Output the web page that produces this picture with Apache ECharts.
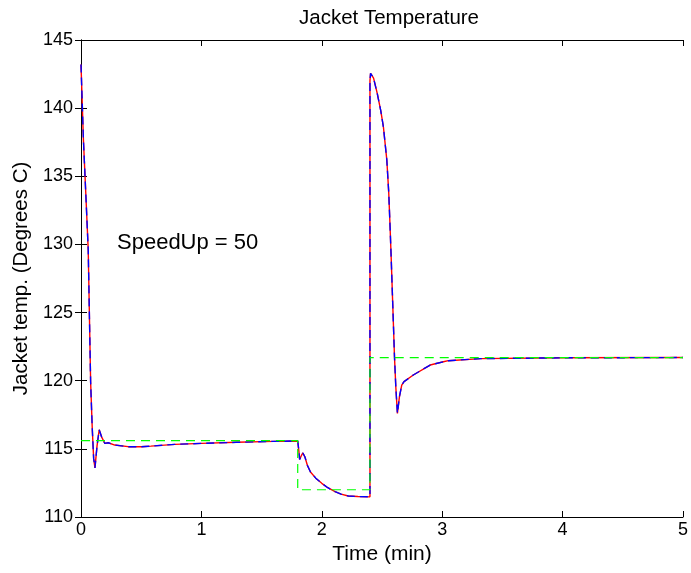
<!DOCTYPE html>
<html>
<head>
    <meta charset="utf-8" />
    <title>Jacket Temperature</title>
    <script src="https://cdn.jsdelivr.net/npm/echarts@6/dist/echarts.min.js"></script>
    <style>
        html, body { margin: 0; padding: 0; background: #fff; }
        #chart { width: 691px; height: 573px; }
    </style>
</head>
<body>
    <div id="chart"></div>
    <script>
        // time (min) and jacket temperature
        const respTime = [0, 0.02, 0.04, 0.06, 0.07, 0.08, 0.093, 0.105, 0.116, 0.133, 0.151, 0.17, 0.198, 0.226, 0.281, 0.39, 0.5, 0.58, 0.78, 1.0, 1.29, 1.6, 1.8,
            1.81, 1.816, 1.83, 1.843, 1.86, 1.88, 1.906, 1.95, 2.0, 2.05, 2.11, 2.16, 2.22, 2.3, 2.4,
            2.4, 2.405, 2.43, 2.46, 2.49, 2.512, 2.54, 2.556, 2.567, 2.576, 2.59, 2.604, 2.615, 2.628, 2.645, 2.664, 2.683, 2.76, 2.9, 3.01, 3.05, 3.32, 4.0, 5.0];
        const respTemp = [143.2, 137.7, 133.7, 129.6, 124.7, 119.9, 116.6, 114.3, 113.6, 115.2, 116.4, 115.9, 115.4, 115.45, 115.28, 115.16, 115.15, 115.2, 115.33, 115.4, 115.48, 115.55, 115.58,
            114.8, 114.23, 114.5, 114.7, 114.4, 113.8, 113.3, 112.85, 112.47, 112.15, 111.86, 111.68, 111.54, 111.5, 111.48,
            142.0, 142.55, 142.2, 141.1, 139.8, 138.6, 136.2, 133.8, 131.3, 129.1, 125.4, 121.7, 119.5, 117.6, 118.83, 119.68, 119.93, 120.42, 121.15, 121.39, 121.47, 121.62, 121.68, 121.7];
        // setpoint
        const spTime = [0, 1.8, 1.8, 2.4, 2.4, 5];
        const spTemp = [115.6, 115.6, 112, 112, 121.7, 121.7];
        const xTicks = [0, 1, 2, 3, 4, 5];
        const yTicks = [110, 115, 120, 125, 130, 135, 140, 145];

        const pairs = (xs, ys) => xs.map((x, i) => [x, ys[i]]);
        const font = 'Liberation Sans, Arial, sans-serif';

        var myChart = echarts.init(document.getElementById('chart'));
        const boxAxis = {
            axisLine: { show: true, lineStyle: { color: '#000', width: 1 } },
            axisTick: { show: true, inside: true, length: 6, lineStyle: { color: '#000' } },
            splitLine: { show: false }
        };
        option = {
            animation: false,
            title: {
                text: 'Jacket Temperature',
                left: 384, top: 3, textAlign: 'center',
                textStyle: { fontFamily: font, fontSize: 20.5, fontWeight: 'normal', color: '#000' }
            },
            grid: { left: 81, right: 5, top: 40, bottom: 56 },
            xAxis: [
                Object.assign({
                    type: 'value', min: xTicks[0], max: xTicks[xTicks.length - 1], interval: 1,
                    name: 'Time (min)', nameLocation: 'middle', nameGap: 22,
                    nameTextStyle: { fontFamily: font, fontSize: 21, color: '#000' },
                    axisLabel: { fontFamily: font, fontSize: 18, color: '#000', margin: 4 }
                }, boxAxis),
                Object.assign({
                    type: 'value', position: 'top', min: 0, max: 5, interval: 1,
                    axisLabel: { show: false }
                }, boxAxis)
            ],
            yAxis: [
                Object.assign({
                    type: 'value', min: yTicks[0], max: yTicks[yTicks.length - 1], interval: 5,
                    name: 'Jacket temp. (Degrees C)', nameLocation: 'middle', nameGap: 49,
                    nameTextStyle: { fontFamily: font, fontSize: 20.5, color: '#000' },
                    axisLabel: { fontFamily: font, fontSize: 18, color: '#000', margin: 8 }
                }, boxAxis),
                Object.assign({
                    type: 'value', position: 'right', min: 110, max: 145, interval: 5,
                    axisLabel: { show: false }
                }, boxAxis)
            ],
            graphic: [{
                type: 'text', left: 117, top: 232,
                style: { text: 'SpeedUp = 50', fontFamily: font, fontSize: 22, fill: '#000' }
            }],
            series: [
                {
                    type: 'line', data: pairs(respTime, respTemp), symbol: 'none',
                    lineStyle: { color: '#ff0000', width: 1.4 }
                },
                {
                    type: 'line', data: pairs(respTime, respTemp), symbol: 'none',
                    lineStyle: { color: '#0000ff', width: 1.4, type: [8, 5] }
                },
                {
                    type: 'line', data: pairs(spTime, spTemp), symbol: 'none',
                    lineStyle: { color: '#00ff00', width: 1.2, type: [9, 6] }
                }
            ]
        };
        myChart.setOption(option);
    </script>
</body>
</html>
